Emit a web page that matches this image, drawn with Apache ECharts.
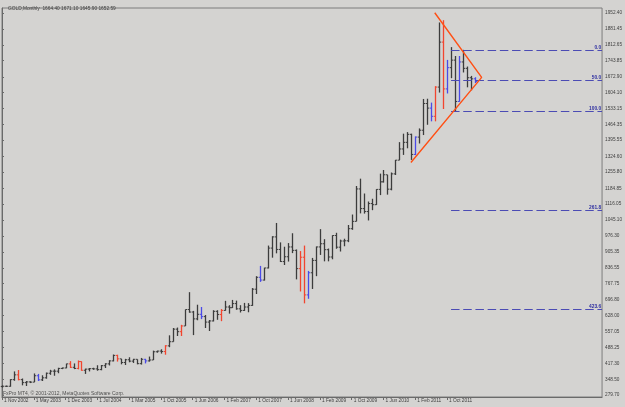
<!DOCTYPE html>
<html><head><meta charset="utf-8">
<script src="https://cdn.jsdelivr.net/npm/echarts@6/dist/echarts.min.js"></script>
<style>html,body{margin:0;padding:0;background:#d4d3d1;}#c{width:625px;height:407px;}</style>
</head><body><div id="c"></div>
<script>
// ---- data ----
const months = ['2002-11','2002-11b','2002-12','2003-01','2003-02','2003-03','2003-04','2003-04b','2003-05','2003-06','2003-07','2003-08','2003-09','2003-10','2003-11','2003-11b','2003-12','2004-01','2004-02','2004-03','2004-04','2004-05','2004-06','2004-06b','2004-07','2004-08','2004-09','2004-10','2004-11','2004-12','2005-01','2005-02','2005-03','2005-04','2005-05','2005-06','2005-07','2005-08','2005-09','2005-09b','2005-10','2005-11','2005-12','2006-01','2006-02','2006-03','2006-04','2006-05','2006-06','2006-07','2006-08','2006-09','2006-10','2006-11','2006-12','2007-01','2007-02','2007-03','2007-04','2007-05','2007-06','2007-07','2007-08','2007-09','2007-10','2007-11','2007-12','2008-01','2008-02','2008-03','2008-04','2008-05','2008-06','2008-07','2008-08','2008-09','2008-10','2008-11','2008-12','2009-01','2009-02','2009-03','2009-04','2009-05','2009-06','2009-07','2009-08','2009-09','2009-10','2009-11','2009-12','2010-01','2010-02','2010-03','2010-04','2010-05','2010-06','2010-07','2010-08','2010-09','2010-10','2010-11','2010-12','2011-01','2011-02','2011-03','2011-04','2011-05','2011-06','2011-07','2011-08','2011-09','2011-10','2011-11','2011-12','2012-01','2012-02','2012-03','2012-04','2012-05'];
const opens  = [317,318,318,347,368,347,334,337,336,364,346,355,375,384,384,396,398,416,401,396,426,388,393,395,394,391,408,416,429,453,438,422,434,428,436,417,436,429,433,469,472,470,495,513,568,557,582,654,643,613,633,623,599,604,646,632,650,665,662,680,657,650,665,672,743,795,783,836,923,972,917,864,885,928,913,833,883,718,815,869,928,942,916,884,978,927,954,955,1008,1040,1182,1096,1083,1118,1113,1180,1213,1244,1181,1248,1308,1357,1386,1421,1333,1409,1439,1556,1536,1500,1628,1825,1620,1713,1746,1565,1738,1710,1669,1664.40];
const highs  = [322,321,349,383,389,352,341,340,374,372,366,378,390,392,399,400,417,428,418,431,427,395,398,399,410,411,419,432,457,456,438,438,445,438,436,442,438,448,474,474,480,498,541,573,575,587,654,730,648,675,665,630,608,651,651,656,692,673,696,693,673,683,682,748,800,845,837,934,975,1033,948,929,945,988,917,910,934,823,880,930,1006,962,921,979,990,960,964,1024,1070,1195,1227,1162,1127,1139,1181,1249,1265,1244,1254,1309,1387,1424,1431,1424,1412,1447,1576,1577,1560,1632,1911,1921,1747,1803,1764,1764,1791,1718,1677,1671.10];
const lows   = [312,315,316,342,344,322,319,332,336,341,341,351,368,364,375,393,397,398,393,392,386,372,383,390,386,388,398,409,427,426,414,411,423,420,414,413,418,426,433,465,461,456,489,513,538,538,582,640,542,607,612,573,560,602,609,603,649,636,661,653,641,648,642,670,722,775,781,834,881,900,862,849,864,901,786,733,681,701,744,800,893,865,865,874,920,908,931,949,1003,1040,1075,1074,1044,1089,1112,1155,1210,1157,1176,1243,1308,1331,1360,1309,1330,1381,1418,1463,1478,1478,1604,1532,1600,1667,1523,1564,1692,1627,1614,1645.90];
const closes = [318,318,347,368,347,334,337,336,364,346,355,375,384,384,396,398,416,401,396,426,388,393,395,394,391,408,416,429,453,438,422,434,428,436,417,436,429,433,469,472,470,495,513,568,557,582,654,643,613,633,623,599,604,646,632,650,665,662,680,657,650,665,672,743,795,783,836,923,972,917,864,885,928,913,833,883,718,815,869,928,942,916,884,978,927,954,955,1008,1040,1182,1096,1083,1118,1113,1180,1213,1244,1181,1248,1308,1357,1386,1421,1333,1409,1439,1556,1536,1500,1628,1825,1620,1713,1746,1565,1738,1710,1669,1664,1652.59];
const redBars  = ['2003-02','2004-01','2004-03','2004-04','2004-12','2005-11','2006-03','2007-01','2008-09','2008-10','2011-07','2011-09'];
const blueBars = ['2003-06','2005-07','2006-08','2007-11','2008-11','2011-02','2011-06','2011-10','2012-01','2012-05'];
const xTickLabels = ['1 Nov 2002','1 May 2003','1 Dec 2003','1 Jul 2004','1 Mar 2005','1 Oct 2005','1 Jun 2006','1 Feb 2007','1 Oct 2007','1 Jun 2008','1 Feb 2009','1 Oct 2009','1 Jun 2010','1 Feb 2011','1 Oct 2011'];
const yTicks = [279.70,348.50,417.30,488.25,557.05,628.00,696.80,767.75,836.55,905.35,976.30,1045.10,1116.05,1184.85,1255.80,1324.60,1395.55,1464.35,1533.15,1604.10,1672.90,1743.85,1812.65,1881.45,1952.40];
const futureSlots = 32;
// triangle trend lines: [bar index, price]
const triangle = [[108.9,1953.5],[120.7,1670.5],[102.9,1297.5]];
// fibonacci: anchored at bar index, 0 level price, 100 level price
const fibStart = 113, fib0 = 1791, fib100 = 1523;
const fibLevels = [0, 50, 100, 261.8, 423.6];
const title = 'GOLD,Monthly  1664.40 1671.10 1645.90 1652.59';
const copyright = 'FxPro MT4, \u00a9 2001-2012, MetaQuotes Software Corp.';
const lastClose = 1652.59;

// ---- build ----
const cats = months.concat(Array.from({length: futureSlots}, (_, i) => 'f' + i));
const N = cats.length;
const bars = months.map((m, i) => [i, opens[i], highs[i], lows[i], closes[i]]);
const barColor = months.map(m => redBars.includes(m) ? '#f2452f' : (blueBars.includes(m) ? '#4a4ae8' : '#3c3c3c'));
const fibData = fibLevels.map(l => [fibStart, N - 1, fib0 - (fib0 - fib100) * l / 100, l]);
const FONT = 'Liberation Sans, Arial, sans-serif';
const showTick = (idx) => idx % 8 === 0 && idx / 8 < xTickLabels.length;

const chart = echarts.init(document.getElementById('c'), null, {renderer: 'canvas'});
chart.setOption({
  animation: false,
  backgroundColor: '#d4d3d1',
  title: {text: title, left: 3, top: 1, textStyle: {fontSize: 4.8, fontWeight: 'normal', color: '#404040', fontFamily: FONT}},
  graphic: [{type: 'text', left: 3, top: 391, style: {text: copyright, fontSize: 5, fill: '#505050', fontFamily: FONT}}],
  grid: {left: 2, right: 21, top: 8, bottom: 10, show: true, borderColor: '#7c7c7c', borderWidth: 1, backgroundColor: 'transparent'},
  xAxis: [{
    type: 'category', data: cats, boundaryGap: false,
    axisLine: {lineStyle: {color: '#6a6a6a', width: 1}},
    axisTick: {show: true, interval: showTick, length: 3, lineStyle: {color: '#6a6a6a'}},
    axisLabel: {interval: showTick, align: 'left', margin: 1.5, padding: [0, 0, 0, 2], fontSize: 4.8, color: '#404040', fontFamily: FONT,
      formatter: (v, idx) => xTickLabels[idx / 8] || ''},
    splitLine: {show: false}
  }, {
    type: 'value', min: 0, max: N - 1, show: false
  }],
  yAxis: {
    type: 'value', position: 'right', min: 270.94, max: 1974.29, scale: true,
    axisLine: {show: true, lineStyle: {color: '#6a6a6a', width: 1}},
    axisTick: {show: true, customValues: yTicks, length: 2, lineStyle: {color: '#6a6a6a'}},
    axisLabel: {customValues: yTicks, formatter: v => v.toFixed(2), margin: 3, fontSize: 4.7, color: '#404040', fontFamily: FONT},
    splitLine: {show: false}
  },
  series: [{
    type: 'custom', xAxisIndex: 0, data: bars, encode: {x: 0, y: [1, 2, 3, 4]},
    renderItem: (params, api) => {
      const i = api.value(0);
      const x = Math.round(api.coord([i, 0])[0]) + 0.5;
      const yo = api.coord([i, api.value(1)])[1];
      const yh = api.coord([i, api.value(2)])[1];
      const yl = api.coord([i, api.value(3)])[1];
      const yc = api.coord([i, api.value(4)])[1];
      const col = barColor[params.dataIndex];
      return {type: 'group', children: [
        {type: 'line', shape: {x1: x, y1: yh, x2: x, y2: yl}, style: {stroke: col, lineWidth: 1.3}},
        {type: 'line', shape: {x1: x - 1.7, y1: yo, x2: x, y2: yo}, style: {stroke: col, lineWidth: 1}},
        {type: 'line', shape: {x1: x, y1: yc, x2: x + 1.7, y2: yc}, style: {stroke: col, lineWidth: 1}}
      ]};
    }
  }, {
    type: 'custom', xAxisIndex: 1, data: fibData, encode: {x: [0, 1], y: 2},
    renderItem: (params, api) => {
      const p1 = api.coord([api.value(0), api.value(2)]);
      const p2 = api.coord([api.value(1), api.value(2)]);
      const y = Math.round(p1[1]) + 0.5;
      return {type: 'group', children: [
        {type: 'line', shape: {x1: p1[0], y1: y, x2: p2[0], y2: y}, style: {stroke: '#4b4bb4', lineWidth: 1, lineDash: [8.5, 3.7]}},
        {type: 'text', x: p2[0] - 1, y: y - 0.5, style: {text: api.value(3).toFixed(1), align: 'right', verticalAlign: 'bottom', textAlign: 'right', textVerticalAlign: 'bottom', fill: '#2e2ea0', fontSize: 4.8, fontWeight: 'bold', fontFamily: FONT}}
      ]};
    }
  }, {
    type: 'line', xAxisIndex: 1, data: triangle, symbol: 'none', silent: true,
    lineStyle: {color: '#ff4f14', width: 1.4},
    markLine: {
      symbol: 'none', silent: true, data: [{yAxis: lastClose}],
      lineStyle: {opacity: 0},
      label: {position: 'end', distance: 1, formatter: () => lastClose.toFixed(2), backgroundColor: '#6c6c6c', color: '#e6e6e6', padding: [1, 2, 1, 2], fontSize: 4.7, fontFamily: FONT}
    }
  }]
});
</script></body></html>
